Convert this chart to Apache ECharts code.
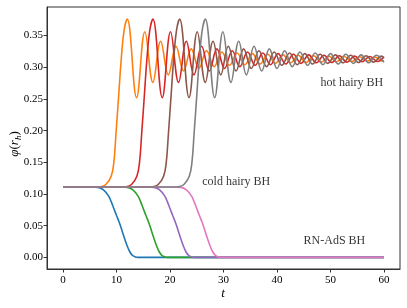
<!DOCTYPE html>
<html>
<head>
<meta charset="utf-8">
<script src="https://cdn.jsdelivr.net/npm/echarts@6/dist/echarts.min.js"></script>
<style>html,body{margin:0;padding:0;background:#fff;}#c{width:407px;height:308px;}</style>
</head>
<body>
<div id="c"></div>
<script>
// ---- data ----
const xTicks = [0, 10, 20, 30, 40, 50, 60];
const yTicks = [0, 0.05, 0.10, 0.15, 0.20, 0.25, 0.30, 0.35];

const blue = [[0,0.111],[5.5,0.111],[6.5,0.1105],[7.5,0.107],[8.5,0.097],[9,0.088],[9.5,0.077],[10,0.066],[10.5,0.0555],[11,0.043],[11.5,0.030],[12,0.018],[12.5,0.0085],[13,0.003],[13.5,0.0008],[14,0.0001],[15,0],[60,0]];
const green = [[0,0.111],[11,0.111],[12,0.1105],[13,0.107],[14,0.097],[14.5,0.088],[15,0.077],[15.5,0.066],[16,0.0555],[16.5,0.043],[17,0.030],[17.5,0.018],[18,0.0085],[18.5,0.003],[19,0.0008],[19.5,0.0001],[20.5,0],[60,0]];
const purple = [[0,0.111],[16,0.111],[17,0.1105],[18,0.107],[19,0.097],[19.5,0.088],[20,0.077],[20.5,0.066],[21,0.0555],[21.5,0.043],[22,0.030],[22.5,0.018],[23,0.0085],[23.5,0.003],[24,0.0008],[24.5,0.0001],[25.5,0],[60,0]];
const pink = [[0,0.111],[21,0.111],[22,0.1105],[23,0.107],[24,0.097],[24.5,0.088],[25,0.077],[25.5,0.066],[26,0.0555],[26.5,0.043],[27,0.030],[27.5,0.018],[28,0.0085],[28.5,0.003],[29,0.0008],[29.5,0.0001],[30.5,0],[60,0]];

const orange = [[0,0.111],[6,0.111],[7,0.1115],[8,0.115],[9,0.128],[9.5,0.15],[9.9,0.195],[10.4,0.255],[10.9,0.315],[11.45,0.36],[12,0.376],
  [13.75,0.252],[15.3,0.356],[16.8,0.276],[18.25,0.341],[19.68,0.288],[21.11,0.333],[22.54,0.294],[23.97,0.329],[25.4,0.298],[26.83,0.326],[28.26,0.301],[29.69,0.324],[31.12,0.303],[32.55,0.3225],[33.98,0.304],[35.41,0.3215],[36.84,0.305],[38.27,0.3205],[39.7,0.306],[41.13,0.3195],[42.56,0.307],[43.99,0.3188],[45.42,0.3075],[46.85,0.318],[48.28,0.308],[49.71,0.3175],[51.14,0.3087],[52.57,0.317],[54.0,0.309],[55.43,0.3166],[56.86,0.3096],[58.29,0.3162],[59.72,0.310],[60,0.3102]];
const red = [[0,0.111],[10.8,0.111],[11.8,0.1115],[12.8,0.115],[13.8,0.128],[14.3,0.15],[14.7,0.195],[15.2,0.255],[15.7,0.315],[16.25,0.36],[16.8,0.376],
  [18.55,0.252],[20.1,0.356],[21.6,0.276],[23.05,0.341],[24.48,0.288],[25.91,0.333],[27.34,0.294],[28.77,0.329],[30.2,0.298],[31.63,0.326],[33.06,0.301],[34.49,0.324],[35.92,0.303],[37.35,0.3225],[38.78,0.304],[40.21,0.3215],[41.64,0.305],[43.07,0.3205],[44.5,0.306],[45.93,0.3195],[47.36,0.307],[48.79,0.3188],[50.22,0.3075],[51.65,0.318],[53.08,0.308],[54.51,0.3175],[55.94,0.3087],[57.37,0.317],[58.8,0.309],[60,0.3162]];
const brown = [[0,0.111],[15.8,0.111],[16.8,0.1115],[17.8,0.115],[18.8,0.128],[19.3,0.15],[19.7,0.195],[20.2,0.255],[20.7,0.315],[21.25,0.36],[21.8,0.376],
  [23.55,0.252],[25.1,0.356],[26.6,0.276],[28.05,0.341],[29.48,0.288],[30.91,0.333],[32.34,0.294],[33.77,0.329],[35.2,0.298],[36.63,0.326],[38.06,0.301],[39.49,0.324],[40.92,0.303],[42.35,0.3225],[43.78,0.304],[45.21,0.3215],[46.64,0.305],[48.07,0.3205],[49.5,0.306],[50.93,0.3195],[52.36,0.307],[53.79,0.3188],[55.22,0.3075],[56.65,0.318],[58.08,0.308],[59.51,0.3175],[60,0.3152]];
const gray = [[0,0.111],[20.6,0.111],[21.6,0.1115],[22.6,0.115],[23.6,0.128],[24.1,0.15],[24.5,0.195],[25.0,0.255],[25.5,0.315],[26.05,0.36],[26.6,0.376],
  [28.35,0.252],[29.9,0.356],[31.4,0.276],[32.85,0.341],[34.28,0.288],[35.71,0.333],[37.14,0.294],[38.57,0.329],[40.0,0.298],[41.43,0.326],[42.86,0.301],[44.29,0.324],[45.72,0.303],[47.15,0.3225],[48.58,0.304],[50.01,0.3215],[51.44,0.305],[52.87,0.3205],[54.3,0.306],[55.73,0.3195],[57.16,0.307],[58.59,0.3188],[60,0.3076]];

const seriesData = [blue, orange, green, red, purple, brown, pink, gray];
const seriesColors = ['#1f77b4','#ff7f0e','#2ca02c','#d62728','#9467bd','#8c564b','#e377c2','#7f7f7f'];

const annotations = [[48.15, 0.2757, 'hot hairy BH'], [26.03, 0.1196, 'cold hairy BH'], [44.97, 0.0263, 'RN-AdS BH']];

// ---- chart ----
const FONT = 'Liberation Serif';
const chart = echarts.init(document.getElementById('c'), null, {renderer: 'canvas'});
const series = seriesData.map((d, i) => ({
  type: 'line', data: d, showSymbol: false, smooth: 0.4, silent: true,
  lineStyle: {width: 1.6, color: seriesColors[i]}, itemStyle: {color: seriesColors[i]}
}));
series.push({
  type: 'scatter', data: annotations, symbolSize: 0, silent: true, z: 10,
  label: {show: true, position: 'right', distance: 0, formatter: p => p.value[2],
          fontFamily: FONT, fontSize: 12, color: '#000'}
});
const axisLineStyle = {show: true, onZero: false, lineStyle: {color: '#333', width: 1}};
chart.setOption({
  animation: false,
  backgroundColor: '#fff',
  grid: {left: 47, right: 7, top: 7, bottom: 39, show: true, borderColor: '#333', borderWidth: 1},
  xAxis: {
    type: 'value', min: -3, max: 63,
    splitLine: {show: false}, axisLine: axisLineStyle,
    axisTick: {show: true, length: 3.5, lineStyle: {color: '#333'}, customValues: xTicks},
    axisLabel: {customValues: xTicks, fontFamily: FONT, fontSize: 11, color: '#000', margin: 6}
  },
  yAxis: {
    type: 'value', min: -0.0183, max: 0.395,
    splitLine: {show: false}, axisLine: axisLineStyle,
    axisTick: {show: true, length: 3.5, lineStyle: {color: '#333'}, customValues: yTicks},
    axisLabel: {customValues: yTicks, fontFamily: FONT, fontSize: 11, color: '#000', margin: 4,
                formatter: v => v.toFixed(2)}
  },
  series: series,
  graphic: [
    {type: 'text', x: 223, y: 294, style: {text: 't', fontFamily: FONT, fontStyle: 'italic', fontSize: 13,
      fill: '#000', align: 'center', verticalAlign: 'middle'}},
    {type: 'text', x: 15, y: 144, rotation: Math.PI / 2,
      style: {text: '{i|φ}{n|(}{i|r}{s|h}{n|)}', align: 'center', verticalAlign: 'middle', fill: '#000',
        rich: {
          i: {fontFamily: FONT, fontStyle: 'italic', fontSize: 13, lineHeight: 16},
          n: {fontFamily: FONT, fontSize: 13, lineHeight: 16},
          s: {fontFamily: FONT, fontStyle: 'italic', fontSize: 9, lineHeight: 16, verticalAlign: 'bottom'}
        }}}
  ]
});
</script>
</body>
</html>
